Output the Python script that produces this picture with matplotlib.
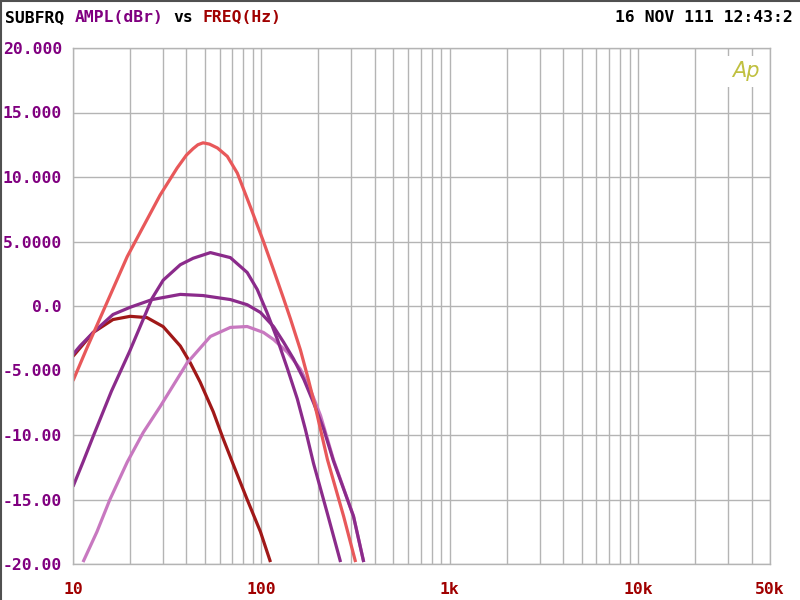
import matplotlib
matplotlib.use('Agg')
import matplotlib.pyplot as plt
from matplotlib.lines import Line2D
import numpy as np

# Dữ liệu (Hz, dBr)
f_salmon = [10, 11.9, 19.4, 29.0, 35.7, 40, 43.4, 46, 49, 53, 58.4, 65.9, 74.5, 87.3, 102.5, 116,
            130.9, 142.6, 161, 176, 193, 224, 273, 316]
db_salmon = [-5.8, -3.2, 3.83, 8.6, 10.7, 11.7, 12.2, 12.5, 12.65, 12.55, 12.25, 11.6, 10.3, 7.7, 5.0,
             2.8, 0.6, -1.0, -3.4, -5.5, -7.8, -11.9, -16.3, -19.85]

f_purple_hi = [10, 11.3, 12.8, 16, 20, 26.3, 30.1, 37.1, 43.4, 53.6, 68.4, 84, 95, 107, 121.6,
               137.7, 155, 171, 189, 224, 263]
db_purple_hi = [-14.0, -12.1, -10.1, -6.6, -3.5, 0.6, 2.0, 3.2, 3.7, 4.14, 3.75, 2.6, 1.28, -0.5, -2.6,
                -4.9, -7.2, -9.55, -12.2, -16.1, -19.85]

f_purple_flat = [10, 10.9, 12.8, 16.3, 20.1, 26.3, 37.1, 49, 68.4, 84, 98.8, 116, 131, 148,
                 168, 189, 214, 241, 308, 349]
db_purple_flat = [-3.75, -3.1, -2.05, -0.66, -0.1, 0.5, 0.9, 0.81, 0.5, 0.1, -0.5, -1.6, -2.8, -4.1,
                  -5.7, -7.5, -9.55, -12.0, -16.3, -19.85]

f_pink = [11.3, 13.4, 15.7, 19.4, 23.6, 29, 40.4, 53.6, 68.4, 84, 102.5, 116, 137.7, 161, 182, 206,
          241, 308, 349]
db_pink = [-19.85, -17.5, -15.0, -12.1, -9.8, -7.8, -4.4, -2.36, -1.66, -1.59, -2.05, -2.6, -3.6,
           -4.9, -6.5, -8.5, -11.9, -16.3, -19.85]

f_red = [10, 12.8, 16.3, 20.1, 24.7, 30.1, 37.1, 41.9, 47.3, 55.5, 62.7, 72.5, 84, 98.8, 111.7]
db_red = [-3.9, -2.05, -1.05, -0.8, -0.9, -1.6, -3.1, -4.4, -5.9, -8.2, -10.3, -12.65, -15.0,
          -17.5, -19.85]

y_ticks = [20, 15, 10, 5, 0, -5, -10, -15, -20]
y_labels = ['20.000', '15.000', '10.000', '5.0000', '0.0', '-5.000', '-10.00', '-15.00', '-20.00']
x_ticks = [10, 100, 1000, 10000, 50000]
x_labels = ['10', '100', '1k', '10k', '50k']

mono = 'DejaVu Sans Mono'
grid_col = '#b4b4b4'
purple_txt = '#800080'
red_txt = '#a00000'

fig = plt.figure(figsize=(8, 6), dpi=100)
ax = fig.add_axes([73 / 800, 1 - 564 / 600, 697 / 800, 516 / 600])

ax.plot(f_red, db_red, color='#a01818', lw=2.3, solid_capstyle='butt')
ax.plot(f_pink, db_pink, color='#c878c0', lw=2.3, solid_capstyle='butt')
ax.plot(f_purple_flat, db_purple_flat, color='#8b2b8b', lw=2.3, solid_capstyle='butt')
ax.plot(f_purple_hi, db_purple_hi, color='#8b2b8b', lw=2.3, solid_capstyle='butt')
ax.plot(f_salmon, db_salmon, color='#e8585a', lw=2.3, solid_capstyle='butt')

ax.set_xscale('log')
ax.set_xlim(10, 50000)
ax.set_ylim(-20, 20)

minor = []
for dec in [10, 100, 1000, 10000]:
    for m in range(2, 10):
        if dec * m < 50000:
            minor.append(dec * m)
ax.set_xticks(x_ticks)
ax.set_xticks(minor, minor=True)
ax.set_xticklabels(x_labels)
ax.set_yticks(y_ticks)
ax.set_yticklabels(y_labels)
ax.grid(True, which='both', color=grid_col, lw=1.0)
ax.set_axisbelow(True)
ax.tick_params(which='both', length=0)
ax.tick_params(axis='x', pad=13, labelcolor=red_txt, labelsize=11.8)
ax.tick_params(axis='y', pad=8, labelcolor=purple_txt, labelsize=11.8)
for lab in ax.get_xticklabels() + ax.get_yticklabels():
    lab.set_fontfamily(mono)
    lab.set_fontweight('bold')
for s in ax.spines.values():
    s.set_color(grid_col)
    s.set_linewidth(1.0)

# Logo "Ap"
ax.text(0.965, 0.955, 'Ap', transform=ax.transAxes, ha='center', va='center',
        fontsize=15, color='#c0c040', style='italic', family='DejaVu Sans',
        bbox=dict(facecolor='white', edgecolor='none', pad=4))

# Tiêu đề
cw = 9.9 / 800
y_t = 1 - 18 / 600
parts = [('SUBFRQ', 'black', 0), ('AMPL(dBr)', purple_txt, 7), ('vs', 'black', 17), ('FREQ(Hz)', red_txt, 20)]
for txt, col, off in parts:
    fig.text(5 / 800 + off * cw, y_t, txt, color=col, fontsize=11.8, family=mono,
             fontweight='bold', va='center', ha='left')
fig.text(793 / 800, y_t, '16 NOV 111 12:43:2', color='black', fontsize=11.8, family=mono,
         fontweight='bold', va='center', ha='right')

# Khung viền
fig.add_artist(Line2D([0, 1], [0.999, 0.999], transform=fig.transFigure, color='#505050', lw=1.5))
fig.add_artist(Line2D([0.001, 0.001], [0, 1], transform=fig.transFigure, color='#505050', lw=1.5))

fig.savefig('out.png', dpi=100)
